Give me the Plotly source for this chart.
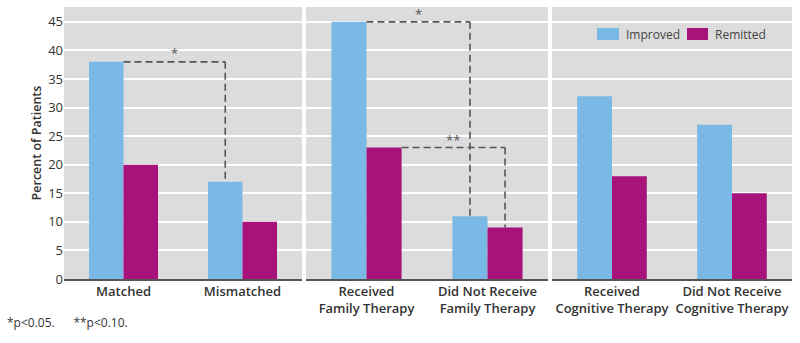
import plotly.graph_objects as go

# ---- data ----
panel_categories = [
    ["Matched", "Mismatched"],
    ["Received<br>Family Therapy", "Did Not Receive<br>Family Therapy"],
    ["Received<br>Cognitive Therapy", "Did Not Receive<br>Cognitive Therapy"],
]
series_names = ["Improved", "Remitted"]
improved = [[38, 17], [45, 11], [32, 27]]
remitted = [[20, 10], [23, 9], [18, 15]]
y_ticks = [0, 5, 10, 15, 20, 25, 30, 35, 40, 45]
y_title = "Percent of Patients"
footnote = "*p<0.05.      **p<0.10."

# ---- style ----
W, H = 800, 343
BLUE = "#7ab8e5"
MAG = "#a8137b"
BG = "#dcdcdc"
FONT = "Open Sans"
BARGAP = 0.42
x_px = [(64, 302), (306, 548), (552, 792)]
y_top_px, y_bot_px = 7, 279
ymax = 47.6

fig = go.Figure()
for i in range(3):
    ax = "" if i == 0 else str(i + 1)
    fig.add_trace(go.Bar(x=panel_categories[i], y=improved[i], name=series_names[0],
                         marker_color=BLUE, marker_line_width=0,
                         xaxis="x" + ax, yaxis="y" + ax, showlegend=False))
    fig.add_trace(go.Bar(x=panel_categories[i], y=remitted[i], name=series_names[1],
                         marker_color=MAG, marker_line_width=0,
                         xaxis="x" + ax, yaxis="y" + ax, showlegend=False))

ydom = [(H - y_bot_px) / H, (H - y_top_px) / H]
layout = dict(
    width=W, height=H, margin=dict(l=0, r=0, t=0, b=0, autoexpand=False),
    paper_bgcolor="white", plot_bgcolor=BG,
    barmode="group", bargap=BARGAP, bargroupgap=0,
    font=dict(family=FONT, size=12, color="#333"),
    showlegend=False,
)
for i in range(3):
    ax = "" if i == 0 else str(i + 1)
    layout["xaxis" + ax] = dict(
        domain=[x_px[i][0] / W, x_px[i][1] / W], anchor="y" + ax,
        type="category", range=[-0.5, 1.5], showgrid=False,
        showline=True, linecolor="#555", linewidth=1.5,
        ticks="", tickfont=dict(size=13, color="#333", weight=600),
        automargin=False, fixedrange=True,
    )
    layout["yaxis" + ax] = dict(
        domain=ydom, anchor="x" + ax, range=[0, ymax],
        tickvals=y_ticks, showgrid=True, gridcolor="white", gridwidth=2,
        zeroline=False, showline=False, ticks="",
        showticklabels=(i == 0), tickfont=dict(size=13, color="#333"),
        title=dict(text=y_title if i == 0 else "", font=dict(size=12.5, color="#333", weight=600),
                   standoff=3),
        automargin=False, fixedrange=True,
    )
    if i > 0:
        layout["yaxis" + ax]["matches"] = "y"
fig.update_layout(**layout)

# ---- legend (drawn manually to match swatch size) ----
leg_y0, leg_y1 = (H - 40) / H, (H - 28) / H
for name, col, (sx0, sx1) in zip(series_names, [BLUE, MAG], [(597, 619), (687, 708)]):
    fig.add_shape(type="rect", xref="paper", yref="paper", x0=sx0 / W, x1=sx1 / W,
                  y0=leg_y0, y1=leg_y1, fillcolor=col, line_width=0)
    fig.add_annotation(xref="paper", yref="paper", x=(sx1 + 5) / W, y=(leg_y0 + leg_y1) / 2,
                       text=name, showarrow=False, xanchor="left", yanchor="middle",
                       font=dict(size=12, color="#444"))

# ---- significance brackets (derived from data and bar geometry) ----
bw = (1 - BARGAP) / 2  # single bar width in category units
blue_c = -bw / 2       # blue bar center offset
mag_c = bw / 2         # magenta bar center offset
line = dict(color="#555", width=1.6, dash="7px,4px")

def bracket(ax, x0, x1, ytop, ybot, label, yoff):
    xr, yr = "x" + ax, "y" + ax
    fig.add_shape(type="line", xref=xr, yref=yr, x0=x0, x1=x1, y0=ytop, y1=ytop, line=line)
    fig.add_shape(type="line", xref=xr, yref=yr, x0=x1, x1=x1, y0=ytop, y1=ybot, line=line)
    fig.add_annotation(xref=xr, yref=yr, x=(x0 + x1) / 2, y=ytop + yoff, text=label,
                       showarrow=False, font=dict(size=13, color="#555"), yanchor="middle")

bracket("", 0, 1 + blue_c, improved[0][0], improved[0][1], "*", 1.6)
bracket("2", 0, 1 + blue_c, improved[1][0], improved[1][1], "*", 1.4)
bracket("2", bw, 1 + mag_c, remitted[1][0], remitted[1][1], "**", 1.3)

fig.add_annotation(xref="paper", yref="paper", x=5 / W, y=(H - 322) / H, text=footnote,
                   showarrow=False, xanchor="left", yanchor="middle",
                   font=dict(size=12, color="#333"))

fig.write_html("out.html", config={"displayModeBar": False},
               post_script="document.body.style.margin='0';")
